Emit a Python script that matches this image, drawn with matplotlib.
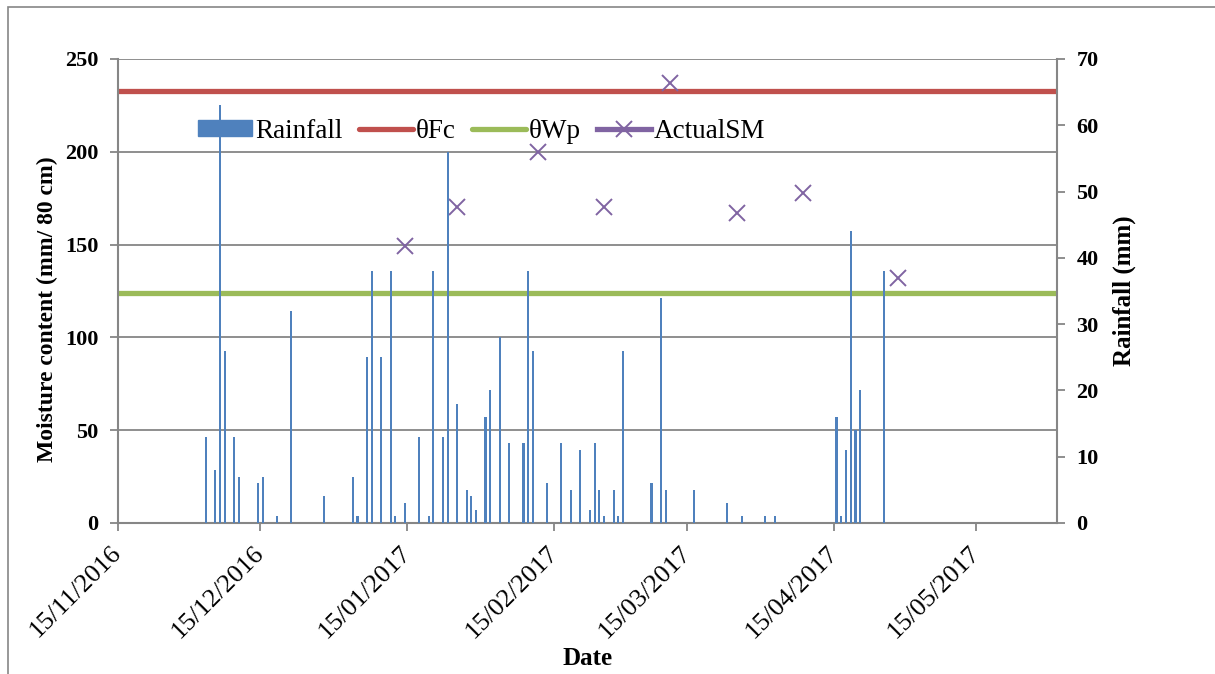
import numpy as np
import pandas as pd
import matplotlib
matplotlib.use("Agg")
import matplotlib.pyplot as plt
import matplotlib.dates as mdates
import matplotlib.transforms as mtransforms
from matplotlib.lines import Line2D
from matplotlib.patches import Patch, Rectangle

# daily rainfall (mm), right axis
rain_dates = ['2016-12-03', '2016-12-05', '2016-12-06', '2016-12-07', '2016-12-09', '2016-12-10',
              '2016-12-14', '2016-12-15', '2016-12-18', '2016-12-21', '2016-12-28',
              '2017-01-03', '2017-01-04', '2017-01-06', '2017-01-07', '2017-01-09', '2017-01-11',
              '2017-01-12', '2017-01-14', '2017-01-17', '2017-01-19', '2017-01-20', '2017-01-22',
              '2017-01-23', '2017-01-25', '2017-01-27', '2017-01-28', '2017-01-29', '2017-01-31',
              '2017-02-01', '2017-02-03', '2017-02-05', '2017-02-08', '2017-02-09', '2017-02-10',
              '2017-02-13', '2017-02-16', '2017-02-18', '2017-02-20', '2017-02-22', '2017-02-23',
              '2017-02-24', '2017-02-25', '2017-02-27', '2017-02-28',
              '2017-03-01', '2017-03-07', '2017-03-09', '2017-03-10', '2017-03-16', '2017-03-23',
              '2017-03-26', '2017-03-31', '2017-04-02', '2017-04-15', '2017-04-16', '2017-04-17',
              '2017-04-18', '2017-04-19', '2017-04-20', '2017-04-25']
rain_mm = [13, 8, 63, 26, 13, 7,
           6, 7, 1, 32, 4,
           7, 1, 25, 38, 25, 38,
           1, 3, 13, 1, 38, 13,
           56, 18, 5, 4, 2, 16,
           20, 28, 12, 12, 38, 26,
           6, 12, 5, 11, 2, 12,
           5, 1, 5, 1,
           26, 6, 34, 5, 5, 3,
           1, 1, 1, 16, 1, 11,
           44, 14, 20, 38]

# measured soil moisture (mm / 80 cm), left axis
sm_dates = ['2017-01-14', '2017-01-25', '2017-02-11', '2017-02-25',
            '2017-03-11', '2017-03-25', '2017-04-08', '2017-04-28']
sm_values = [149, 170, 200, 170, 237, 167, 178, 132]

theta_fc = 233
theta_wp = 124

x_start = '2016-11-15'
x_end = '2017-06-01'
tick_dates = ['2016-11-15', '2016-12-15', '2017-01-15', '2017-02-15',
              '2017-03-15', '2017-04-15', '2017-05-15']

blue = '#4F81BD'
red = '#C0504D'
green = '#9BBB59'
purple = '#8064A2'
grey = '#868686'

plt.rcParams['font.family'] = ['Liberation Serif', 'DejaVu Serif']

W, H = 1215, 674
fig = plt.figure(figsize=(W / 100, H / 100), dpi=100)
ax = fig.add_axes([118 / W, 1 - 523 / H, (1057 - 118) / W, (523 - 59) / H])
ax2 = ax.twinx()

# date axis: each day sits in the middle of its slot (Excel "between tick marks")
half_day = pd.Timedelta(hours=12)
rd = pd.to_datetime(rain_dates) + half_day
sd = pd.to_datetime(sm_dates) + half_day

ax.axhline(theta_fc, color=red, lw=3.8, solid_capstyle='round', zorder=2)
ax.axhline(theta_wp, color=green, lw=3.8, solid_capstyle='round', zorder=2)
ax.plot(sd, sm_values, ls='none', marker='x', ms=12, mew=1.4, color=purple, zorder=3)

ax2.bar(rd, rain_mm, width=0.45, color=blue, lw=0, zorder=2)

ax.set_xlim(pd.Timestamp(x_start), pd.Timestamp(x_end))
ax.set_ylim(0, 250)
ax.set_yticks(np.arange(0, 251, 50))
ax2.set_ylim(0, 70)
ax2.set_yticks(np.arange(0, 71, 10))

ax.set_xticks(pd.to_datetime(tick_dates))
ax.xaxis.set_major_formatter(mdates.DateFormatter('%d/%m/%Y'))
shift = mtransforms.ScaledTranslation(4 / 100, 0, fig.dpi_scale_trans)
for lab in ax.get_xticklabels():
    lab.set_rotation(45)
    lab.set_ha('right')
    lab.set_va('center')
    lab.set_rotation_mode('anchor')
    lab.set_fontsize(19)
    lab.set_transform(lab.get_transform() + shift)

ax.grid(axis='y', color=grey, lw=1.3)
ax.set_axisbelow(True)
for a in (ax, ax2):
    for s in a.spines.values():
        s.set_visible(False)
    a.tick_params(colors=grey, width=1.3, length=6, labelcolor='black')
ax.spines['left'].set_visible(True)
ax.spines['bottom'].set_visible(True)
ax2.spines['right'].set_visible(True)
for s in (ax.spines['left'], ax.spines['bottom'], ax2.spines['right']):
    s.set_color(grey)
    s.set_linewidth(1.5)

for lab in ax.get_yticklabels() + ax2.get_yticklabels():
    lab.set_fontweight('bold')
    lab.set_fontsize(16)
ax.tick_params(axis='x', pad=13)
ax.tick_params(axis='y', pad=8)
ax2.tick_params(axis='y', pad=8)

ax.set_ylabel('Moisture content (mm/ 80 cm)', fontsize=17, fontweight='bold')
ax.yaxis.set_label_coords((58 - 118) / 939, 0.461)
ax2.set_ylabel('Rainfall (mm)', fontsize=18, fontweight='bold', labelpad=10)
ax.set_xlabel('Date', fontsize=18, fontweight='bold')
ax.xaxis.set_label_coords(0.5, -(647 - 523) / 464)

handles = [Patch(color=blue),
           Line2D([], [], color=red, lw=3.8, solid_capstyle='round'),
           Line2D([], [], color=green, lw=3.8, solid_capstyle='round'),
           Line2D([], [], color=purple, lw=3.8, marker='x', ms=12, mew=1.4)]
labels = ['Rainfall', '\u03b8Fc', '\u03b8Wp', 'ActualSM']
leg = ax2.legend(handles, labels, loc='center left', bbox_to_anchor=(198 / W, 1 - 131 / H),
                 bbox_transform=fig.transFigure, ncol=4, frameon=False, fontsize=19.5,
                 handlelength=2.0, handleheight=0.55, handletextpad=0.1, columnspacing=0.6,
                 borderpad=0, borderaxespad=0)

# chart area border (cut off at right and bottom)
fig.add_artist(Rectangle((8 / W, -0.1), 1.2, (H - 7) / H + 0.1, transform=fig.transFigure,
                         fill=False, edgecolor=grey, lw=1.2))

fig.savefig('out.png', dpi=100)
